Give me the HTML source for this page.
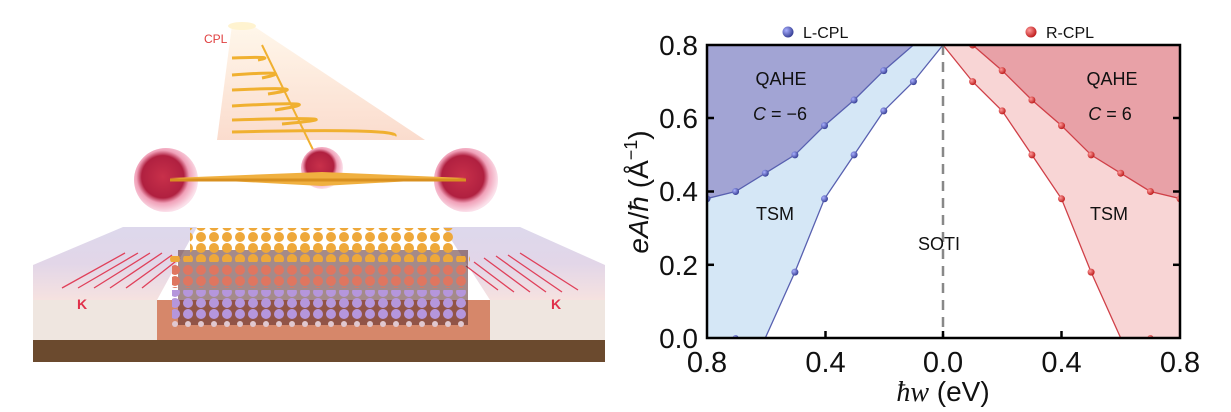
<!DOCTYPE html>
<html><head><meta charset="utf-8"><style>
html,body{margin:0;padding:0;background:#fff;}
svg{display:block;}
text{font-family:"Liberation Sans",sans-serif;}
</style></head><body>
<svg width="1231" height="412" viewBox="0 0 1231 412" xmlns="http://www.w3.org/2000/svg">
<defs>
<radialGradient id="gb" cx="35%" cy="35%" r="65%"><stop offset="0" stop-color="#aab0ff"/><stop offset="1" stop-color="#3a4298"/></radialGradient>
<radialGradient id="gr" cx="35%" cy="35%" r="65%"><stop offset="0" stop-color="#ff9a9a"/><stop offset="1" stop-color="#c02020"/></radialGradient>
<radialGradient id="sph" cx="45%" cy="45%" r="55%"><stop offset="0" stop-color="#c8304a"/><stop offset="0.6" stop-color="#b02040"/><stop offset="0.75" stop-color="#f0a0b8"/><stop offset="1" stop-color="#fbe0ea"/></radialGradient>
<linearGradient id="beam" x1="0" y1="0" x2="0" y2="1"><stop offset="0" stop-color="#fff6e8"/><stop offset="1" stop-color="#fad8c8"/></linearGradient>
<linearGradient id="topf" x1="0" y1="0" x2="0" y2="1"><stop offset="0" stop-color="#ddd8ec"/><stop offset="0.5" stop-color="#e2d6e8"/><stop offset="1" stop-color="#f6e2e0"/></linearGradient>
<pattern id="pY" width="13" height="11" patternUnits="userSpaceOnUse"><circle cx="6" cy="6" r="5" fill="#eea83a"/></pattern>
<pattern id="pR" width="13" height="11" patternUnits="userSpaceOnUse"><circle cx="6" cy="6" r="5" fill="#df7660"/></pattern>
<pattern id="pP" width="13" height="11" patternUnits="userSpaceOnUse"><circle cx="6" cy="6" r="5" fill="#b596dc"/></pattern>
<pattern id="pW" width="13" height="11" patternUnits="userSpaceOnUse"><circle cx="6" cy="5" r="3" fill="#e0c8d0"/></pattern>
<clipPath id="plot"><rect x="707" y="45" width="473" height="293"/></clipPath>
</defs>

<!-- Illustration -->
<polygon points="232,25 252,25 425,140 217,140" fill="url(#beam)" opacity="0.9"/>
<ellipse cx="242" cy="26" rx="14" ry="4" fill="#fff3d0"/>
<g stroke="#f0b030" stroke-width="3" fill="none">
<path d="M232,58 Q280,56 258,60"/>
<path d="M232,75 Q300,70 262,78"/>
<path d="M232,90 Q320,86 268,94"/>
<path d="M232,106 Q340,100 275,110"/>
<path d="M232,120 Q370,116 282,124"/>
<path d="M232,132 Q400,128 395,136"/>
<line x1="262" y1="45" x2="318" y2="160" stroke-width="2"/>
</g>
<text x="204" y="43" font-size="12" fill="#e04040">CPL</text>
<circle cx="166" cy="180" r="32" fill="url(#sph)"/>
<circle cx="322" cy="168" r="21" fill="url(#sph)"/>
<circle cx="466" cy="180" r="32" fill="url(#sph)"/>
<polygon points="170,178 322,172 466,178 322,186" fill="#f0b040"/>
<line x1="170" y1="180" x2="466" y2="180" stroke="#d89020" stroke-width="3"/>
<!-- slab -->
<rect x="33" y="340" width="572" height="22" fill="#6b4a2e"/>
<polygon points="157,300 490,300 490,340 150,340" fill="#d6876a"/>
<polygon points="33,265 123,227 197,227 157,300 33,300" fill="url(#topf)"/>
<rect x="33" y="300" width="124" height="40" fill="#efe6e0"/>
<polygon points="443,227 520,227 605,265 605,300 490,300" fill="url(#topf)"/>
<rect x="490" y="300" width="115" height="40" fill="#efe6e0"/>
<g stroke="#e0405a" stroke-width="1.3">
<line x1="62" y1="288" x2="125" y2="253"/><line x1="78" y1="288" x2="138" y2="253"/><line x1="94" y1="288" x2="150" y2="253"/><line x1="110" y1="288" x2="162" y2="253"/><line x1="126" y1="288" x2="172" y2="255"/><line x1="142" y1="288" x2="180" y2="258"/>
<line x1="578" y1="290" x2="520" y2="253"/><line x1="562" y1="292" x2="508" y2="255"/><line x1="546" y1="292" x2="496" y2="256"/><line x1="530" y1="292" x2="484" y2="258"/><line x1="514" y1="292" x2="474" y2="262"/><line x1="498" y1="290" x2="466" y2="266"/>
</g>
<text x="77" y="309" font-size="14" font-weight="bold" fill="#e0304a">K</text>
<text x="551" y="309" font-size="14" font-weight="bold" fill="#e0304a">K</text>
<rect x="178" y="250" width="290" height="75" fill="#5a2a2a" opacity="0.55"/>
<rect x="190" y="228" width="265" height="34" fill="url(#pY)"/>
<rect x="170" y="256" width="300" height="6" fill="url(#pY)"/>
<rect x="172" y="264" width="296" height="24" fill="url(#pR)"/>
<rect x="172" y="290" width="296" height="30" fill="url(#pP)"/>
<rect x="172" y="320" width="296" height="12" fill="url(#pW)"/>

<!-- Chart -->
<g clip-path="url(#plot)">
<polygon points="707,45 913.4,45 883.8,70.6 854.1,100 824.5,125.6 794.9,154.9 765.3,173.2 735.6,191.5 706,198.8" fill="#a2a4d4"/>
<polygon points="706,198.8 735.6,191.5 765.3,173.2 794.9,154.9 824.5,125.6 854.1,100 883.8,70.6 913.4,45 943,45 913.4,81.6 883.8,110.9 854.1,154.9 824.5,198.8 794.9,272.1 765.3,338 707,338" fill="#d5e7f6"/>
<polygon points="1180,45 972.6,45 1002.2,70.6 1031.9,100 1061.5,125.6 1091.1,154.9 1120.7,173.2 1150.4,191.5 1181,198.8" fill="#e8a1a7"/>
<polygon points="1181,198.8 1150.4,191.5 1120.7,173.2 1091.1,154.9 1061.5,125.6 1031.9,100 1002.2,70.6 972.6,45 943,45 972.6,81.6 1002.2,110.9 1031.9,154.9 1061.5,198.8 1091.1,272.1 1120.7,338 1180,338" fill="#f8d5d5"/>
<g fill="none" stroke="#5860b0" stroke-width="1.3">
<polyline points="706,198.8 735.6,191.5 765.3,173.2 794.9,154.9 824.5,125.6 854.1,100 883.8,70.6 913.4,45"/>
<polyline points="943,45 913.4,81.6 883.8,110.9 854.1,154.9 824.5,198.8 794.9,272.1 765.3,338"/>
</g>
<g fill="none" stroke="#d04048" stroke-width="1.3">
<polyline points="1181,198.8 1150.4,191.5 1120.7,173.2 1091.1,154.9 1061.5,125.6 1031.9,100 1002.2,70.6 972.6,45"/>
<polyline points="943,45 972.6,81.6 1002.2,110.9 1031.9,154.9 1061.5,198.8 1091.1,272.1 1120.7,338"/>
</g>
<g fill="url(#gb)">
<circle cx="707" cy="198.8" r="3.5"/><circle cx="735.6" cy="191.5" r="3.5"/><circle cx="765.3" cy="173.2" r="3.5"/><circle cx="794.9" cy="154.9" r="3.5"/><circle cx="824.5" cy="125.6" r="3.5"/><circle cx="854.1" cy="100" r="3.5"/><circle cx="883.8" cy="70.6" r="3.5"/>
<circle cx="913.4" cy="81.6" r="3.5"/><circle cx="883.8" cy="110.9" r="3.5"/><circle cx="854.1" cy="154.9" r="3.5"/><circle cx="824.5" cy="198.8" r="3.5"/><circle cx="794.9" cy="272.1" r="3.5"/><circle cx="735.6" cy="338" r="3"/>
</g>
<g fill="url(#gr)">
<circle cx="1180" cy="198.8" r="3.5"/><circle cx="1150.4" cy="191.5" r="3.5"/><circle cx="1120.7" cy="173.2" r="3.5"/><circle cx="1091.1" cy="154.9" r="3.5"/><circle cx="1061.5" cy="125.6" r="3.5"/><circle cx="1031.9" cy="100" r="3.5"/><circle cx="1002.2" cy="70.6" r="3.5"/><circle cx="972.6" cy="45" r="3.5"/>
<circle cx="972.6" cy="81.6" r="3.5"/><circle cx="1002.2" cy="110.9" r="3.5"/><circle cx="1031.9" cy="154.9" r="3.5"/><circle cx="1061.5" cy="198.8" r="3.5"/><circle cx="1091.1" cy="272.1" r="3.5"/><circle cx="1150.4" cy="338" r="3"/>
</g>
</g>
<line x1="943" y1="45" x2="943" y2="338" stroke="#888" stroke-width="2.5" stroke-dasharray="10,7"/>
<rect x="707" y="45" width="473" height="293" fill="none" stroke="#000" stroke-width="2.5"/>
<g stroke="#000" stroke-width="2.5">
<line x1="707" y1="118" x2="714" y2="118"/><line x1="707" y1="191.5" x2="714" y2="191.5"/><line x1="707" y1="264.8" x2="714" y2="264.8"/>
<line x1="1180" y1="118" x2="1173" y2="118"/><line x1="1180" y1="191.5" x2="1173" y2="191.5"/><line x1="1180" y1="264.8" x2="1173" y2="264.8"/>
<line x1="825.5" y1="338" x2="825.5" y2="331"/><line x1="943" y1="338" x2="943" y2="331"/><line x1="1061.5" y1="338" x2="1061.5" y2="331"/>
</g>
<g font-size="28" text-anchor="end" fill="#111">
<text x="698" y="55">0.8</text><text x="698" y="128">0.6</text><text x="698" y="201">0.4</text><text x="698" y="275">0.2</text><text x="698" y="348">0.0</text>
</g>
<g font-size="29" text-anchor="middle" fill="#111">
<text x="707" y="372">0.8</text><text x="825.5" y="372">0.4</text><text x="943" y="372">0.0</text><text x="1061.5" y="372">0.4</text><text x="1180" y="372">0.8</text>
</g>
<text x="943" y="401" font-size="28" text-anchor="middle" fill="#111"><tspan font-family="Liberation Serif" font-style="italic">ħw</tspan> (eV)</text>
<text transform="translate(648,192) rotate(-90)" font-size="28" text-anchor="middle" fill="#111" font-family="Liberation Serif"><tspan font-style="italic">eA</tspan>/<tspan font-style="italic">ħ</tspan> (Å<tspan font-size="18" dy="-11">−1</tspan><tspan dy="11">)</tspan></text>
<g font-size="18" fill="#111" text-anchor="middle">
<text x="781" y="85">QAHE</text><text x="775" y="220">TSM</text><text x="939" y="250">SOTI</text>
<text x="1112" y="85">QAHE</text><text x="1109" y="220">TSM</text>
</g>
<g font-size="18" fill="#111" font-family="Liberation Serif" text-anchor="middle">
<text x="780" y="120"><tspan font-style="italic">C</tspan> = −6</text>
<text x="1110" y="120"><tspan font-style="italic">C</tspan> = 6</text>
</g>
<circle cx="788" cy="32" r="5.5" fill="url(#gb)"/>
<text x="803" y="38" font-size="16" fill="#111">L-CPL</text>
<circle cx="1031" cy="32" r="5.5" fill="url(#gr)"/>
<text x="1046" y="38" font-size="16" fill="#111">R-CPL</text>
</svg>
</body></html>
